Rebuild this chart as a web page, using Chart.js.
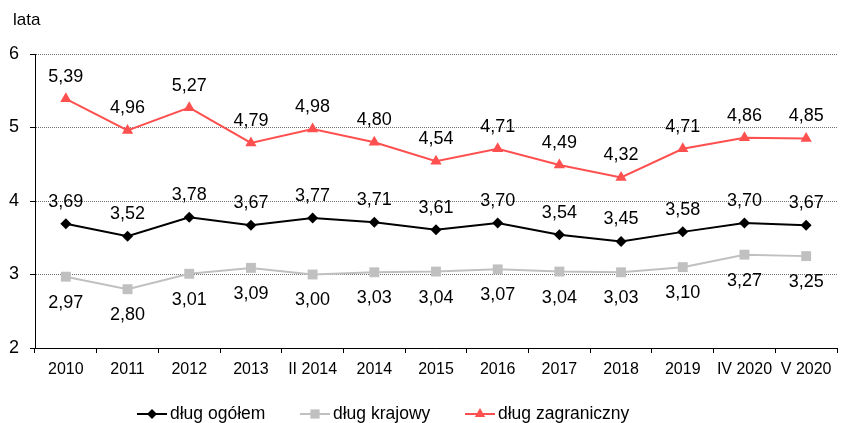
<!DOCTYPE html>
<html lang="pl">
<head>
<meta charset="utf-8">
<title>Średnia zapadalność długu</title>
<script src="https://cdn.jsdelivr.net/npm/chart.js@4"></script>
<style>
  html, body { margin: 0; padding: 0; background: #fff; }
  #wrap { width: 844px; height: 423px; }
</style>
</head>
<body>
<div id="wrap"><canvas id="debtChart" width="844" height="423"></canvas></div>
<script>
// Categories and series (years)
const labels = ['2010', '2011', '2012', '2013', 'II 2014', '2014', '2015', '2016', '2017', '2018', '2019', 'IV 2020', 'V 2020'];
const dlugOgolem = [3.69, 3.52, 3.78, 3.67, 3.77, 3.71, 3.61, 3.70, 3.54, 3.45, 3.58, 3.70, 3.67];
const dlugKrajowy = [2.97, 2.80, 3.01, 3.09, 3.00, 3.03, 3.04, 3.07, 3.04, 3.03, 3.10, 3.27, 3.25];
const dlugZagraniczny = [5.39, 4.96, 5.27, 4.79, 4.98, 4.80, 4.54, 4.71, 4.49, 4.32, 4.71, 4.86, 4.85];
const yTicks = [2, 3, 4, 5, 6];

const FONT = '"Liberation Sans", Arial, sans-serif';

const series = [
    { label: 'dług ogółem', data: dlugOgolem, color: '#000000', point: 'rectRot', radius: 5.5, labelOffset: -22 },
    { label: 'dług krajowy', data: dlugKrajowy, color: '#C0C0C0', point: 'rect', radius: 7, labelOffset: 26 },
    { label: 'dług zagraniczny', data: dlugZagraniczny, color: '#FF5050', point: 'triangle', radius: 6.5, labelOffset: -22 }
];

/**
 * Value labels, axis title and legend drawn straight on the canvas
 */
const decorations = {
    id: 'decorations',
    afterDatasetsDraw(chart) {
        const ctx = chart.ctx;
        ctx.save();
        ctx.font = '18px ' + FONT;
        ctx.fillStyle = '#000';
        ctx.textAlign = 'center';
        ctx.textBaseline = 'middle';
        chart.data.datasets.forEach((ds, i) => {
            const meta = chart.getDatasetMeta(i);
            meta.data.forEach((pt, j) => {
                const txt = ds.data[j].toFixed(2).replace('.', ',');
                ctx.fillText(txt, pt.x, pt.y + series[i].labelOffset);
            });
        });
        ctx.restore();
    },
    afterDraw(chart) {
        const ctx = chart.ctx;
        ctx.save();
        // unit label above the y axis
        ctx.font = '17px ' + FONT;
        ctx.fillStyle = '#000';
        ctx.textAlign = 'left';
        ctx.textBaseline = 'middle';
        ctx.fillText('lata', 13, 20);

        // legend: short line with marker, then the name
        const legendX = [137, 300, 465];
        const legendY = 414;
        series.forEach((s, i) => {
            const x0 = legendX[i];
            ctx.strokeStyle = s.color;
            ctx.lineWidth = 2;
            ctx.beginPath();
            ctx.moveTo(x0, legendY);
            ctx.lineTo(x0 + 30, legendY);
            ctx.stroke();
            ctx.fillStyle = s.color;
            Chart.helpers.drawPoint(ctx, {
                pointStyle: s.point,
                radius: s.radius - 0.5,
                borderWidth: 0,
                rotation: 0
            }, x0 + 15, legendY);
            ctx.fillStyle = '#000';
            ctx.font = '17.5px ' + FONT;
            ctx.fillText(s.label, x0 + 33, legendY);
        });
        ctx.restore();
    }
};

const ctx = document.getElementById('debtChart').getContext('2d');

new Chart(ctx, {
    type: 'line',
    data: {
        labels: labels,
        datasets: series.map(s => ({
            label: s.label,
            data: s.data,
            borderColor: s.color,
            backgroundColor: s.color,
            borderWidth: 2,
            pointStyle: s.point,
            pointRadius: s.radius,
            pointHoverRadius: s.radius,
            pointBorderWidth: 0,
            tension: 0,
            fill: false
        }))
    },
    options: {
        responsive: false,
        animation: false,
        layout: {
            padding: { top: 54, right: -4, left: 0, bottom: 0 }
        },
        plugins: {
            legend: { display: false },
            tooltip: { enabled: false }
        },
        scales: {
            x: {
                offset: true,
                afterFit: function(scale) {
                    scale.height = 75;
                    scale.paddingLeft = 0;
                    scale.paddingRight = 0;
                },
                grid: {
                    offset: true,
                    drawOnChartArea: false,
                    color: '#000',
                    tickLength: 5
                },
                border: { color: '#000', width: 1 },
                ticks: {
                    color: '#000',
                    font: { family: FONT, size: 16 },
                    padding: 7,
                    maxRotation: 0,
                    autoSkip: false
                }
            },
            y: {
                min: 2,
                max: 6,
                afterFit: function(scale) { scale.width = 35; },
                afterBuildTicks: function(scale) {
                    scale.ticks = yTicks.map(v => ({ value: v }));
                },
                grid: {
                    color: '#707070',
                    tickColor: '#000',
                    tickLength: 5
                },
                border: { color: '#000', width: 1, dash: [1, 1] },
                ticks: {
                    color: '#000',
                    font: { family: FONT, size: 18 },
                    padding: 11
                }
            }
        }
    },
    plugins: [decorations]
});
</script>
</body>
</html>
